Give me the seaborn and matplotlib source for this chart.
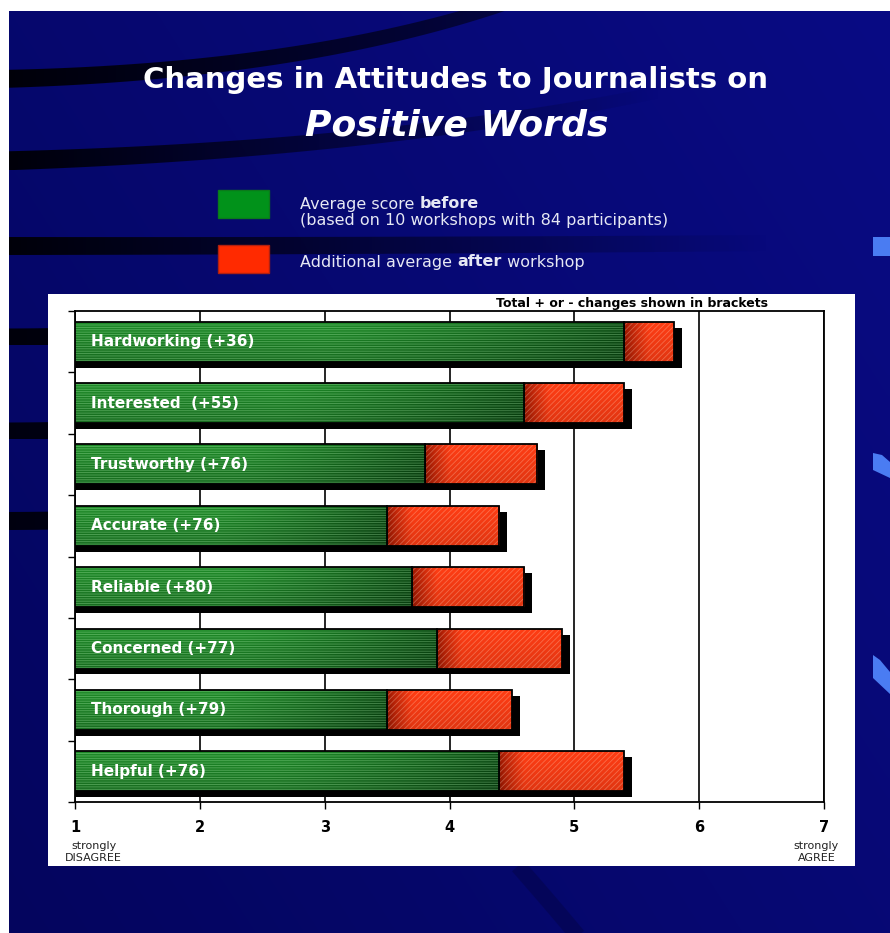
import numpy as np
import pandas as pd
import matplotlib
matplotlib.use("Agg")
import matplotlib.pyplot as plt
import matplotlib.patches as mpatches
import matplotlib.patheffects as pe
from matplotlib.colors import to_rgb
import seaborn as sns

# ---- chart data -------------------------------------------------------------
words = ["Hardworking", "Interested", "Trustworthy", "Accurate",
         "Reliable", "Concerned", "Thorough", "Helpful"]
bar_labels = ["Hardworking (+36)", "Interested  (+55)", "Trustworthy (+76)",
              "Accurate (+76)", "Reliable (+80)", "Concerned (+77)",
              "Thorough (+79)", "Helpful (+76)"]
score_before = [5.4, 4.6, 3.8, 3.5, 3.7, 3.9, 3.5, 4.4]
score_gain = [0.4, 0.8, 0.9, 0.9, 0.9, 1.0, 1.0, 1.0]
x_ticks = [1, 2, 3, 4, 5, 6, 7]

title_line1 = "Changes in Attitudes to Journalists on"
title_line2 = "Positive Words"
note_text = "Total + or - changes shown in brackets"

GREEN = "#1c8526"
RED = "#ff3a12"

df = pd.DataFrame({"word": words, "label": bar_labels,
                   "before": score_before, "gain": score_gain})
df["after"] = df["before"] + df["gain"]

sns.set_style("white")
plt.rcParams["font.family"] = ["DejaVu Sans"]
plt.rcParams["hatch.linewidth"] = 0.6

W, H = 890, 933
fig = plt.figure(figsize=(W / 100, H / 100), dpi=100, facecolor="white")

# ---- slide background (pixel coordinates) ----------------------------------
bg = fig.add_axes([9 / W, 0, (W - 9) / W, (H - 11) / H])
bg.set_xlim(9, W)
bg.set_ylim(H, 11)
bg.axis("off")

gx, gy = np.meshgrid(np.linspace(0, 1, 200), np.linspace(0, 1, 200))
t = 0.6 * gx + 0.4 * (1 - gy)
c0, c1 = np.array(to_rgb("#04055e")), np.array(to_rgb("#090b84"))
grad = c0[None, None, :] * (1 - t[..., None]) + c1[None, None, :] * t[..., None]
bg.imshow(grad, extent=(9, W, H, 11), origin="upper", aspect="auto",
          interpolation="bilinear", zorder=0)


def bezier(p0, p1, p2, n=80):
    s = np.linspace(0, 1, n)[:, None]
    p0, p1, p2 = map(np.asarray, (p0, p1, p2))
    return (1 - s) ** 2 * p0 + 2 * (1 - s) * s * p1 + s ** 2 * p2


def swoosh(p0, p1, p2, w0, w1, a0, a1):
    """Dark ribbon along a curve, fading from alpha a0 (left) to a1 (right)."""
    pts = bezier(p0, p1, p2)
    d = np.gradient(pts, axis=0)
    nrm = np.stack([-d[:, 1], d[:, 0]], axis=1)
    nrm /= np.linalg.norm(nrm, axis=1, keepdims=True)
    half = np.linspace(w0, w1, len(pts))[:, None] / 2
    outline = np.vstack([pts + nrm * half, (pts - nrm * half)[::-1]])
    poly = mpatches.Polygon(outline, closed=True, facecolor="none",
                            edgecolor="none")
    bg.add_patch(poly)
    xmin, xmax = outline[:, 0].min(), outline[:, 0].max()
    ymin, ymax = outline[:, 1].min(), outline[:, 1].max()
    img = np.zeros((2, 256, 4))
    img[..., 2] = 0.02
    img[..., 3] = np.linspace(a0, a1, 256)[None, :]
    im = bg.imshow(img, extent=(xmin, xmax, ymax, ymin), origin="upper",
                   aspect="auto", interpolation="bilinear", zorder=1)
    im.set_clip_path(poly)


swoosh((0, 79), (300, 72), (505, 4), 18, 13, 0.97, 0.5)
swoosh((0, 161), (380, 150), (660, 92), 19, 12, 0.97, 0.0)
swoosh((0, 246), (400, 246), (770, 243), 18, 16, 0.97, 0.0)
swoosh((0, 337), (40, 337), (80, 336), 17, 17, 0.95, 0.9)
swoosh((0, 431), (40, 431), (80, 430), 17, 17, 0.9, 0.85)
swoosh((0, 521), (40, 521), (80, 520), 18, 18, 0.9, 0.85)
swoosh((518, 866), (548, 900), (578, 936), 16, 16, 0.18, 0.18)

# light blue accents at the right edge
for poly in ([(873, 237), (890, 237), (890, 256), (873, 256)],
             [(873, 453), (882, 455), (890, 462), (890, 478), (873, 470)],
             [(873, 655), (880, 660), (890, 672), (890, 694), (873, 678)]):
    bg.add_patch(mpatches.Polygon(poly, closed=True, facecolor="#4a7cf2",
                                  edgecolor="none", zorder=2))

# white panel behind the chart
bg.add_patch(mpatches.Rectangle((48, 294), 807, 572, facecolor="white",
                                edgecolor="none", zorder=5))

# ---- titles -----------------------------------------------------------------
fig.text(456 / W, 1 - 80 / H, title_line1, ha="center", va="center",
         color="white", fontsize=21, fontweight="bold")
fig.text(457 / W, 1 - 125 / H, title_line2, ha="center", va="center",
         color="white", fontsize=26, fontweight="bold", fontstyle="italic")

# ---- legend -----------------------------------------------------------------
bg.add_patch(mpatches.Rectangle((218, 190), 51, 28, facecolor="#01921a",
                                edgecolor="#0a7a1a", lw=1, zorder=3))
bg.add_patch(mpatches.Rectangle((218, 245), 51, 28, facecolor="#ff2a00",
                                edgecolor="#b02010", lw=1, zorder=3))
leg_kw = dict(color="#e6e8f4", fontsize=11.5, zorder=4)
t1 = bg.text(300, 204, "Average score ", va="center", ha="left", **leg_kw)
bg.annotate("before", xy=(1, 0), xycoords=t1, va="bottom", ha="left",
            fontweight="bold", **leg_kw)
bg.text(300, 220, "(based on 10 workshops with 84 participants)",
        va="center", ha="left", **leg_kw)
t3 = bg.text(300, 262, "Additional average ", va="center", ha="left", **leg_kw)
t4 = bg.annotate("after", xy=(1, 0), xycoords=t3, va="bottom", ha="left",
                 fontweight="bold", **leg_kw)
bg.annotate(" workshop", xy=(1, 0), xycoords=t4, va="bottom", ha="left",
            **leg_kw)

# ---- bar chart --------------------------------------------------------------
ax = fig.add_axes([75 / W, 1 - 802 / H, 749 / W, 491 / H])
ax.set_facecolor("white")
ax.set_axisbelow(True)

sns.barplot(data=df, y="word", x="after", orient="h", color=RED,
            saturation=1, width=0.65, linewidth=0, ax=ax, zorder=2)
sns.barplot(data=df, y="word", x="before", orient="h", color=GREEN,
            saturation=1, width=0.65, linewidth=0, ax=ax, zorder=3)
red_bars = ax.containers[0]
green_bars = ax.containers[1]

shadow = [pe.SimplePatchShadow(offset=(5.8, -4.3), shadow_rgbFace="black",
                               alpha=1.0), pe.Normal()]
for p in red_bars:
    p.set_path_effects(shadow)


def green_texture(ncols=300, nrows=24):
    s = np.linspace(0, 1, ncols)
    base, dark = np.array(to_rgb("#1e8a28")), np.array(to_rgb("#0a4c12"))
    k = np.clip((s - 0.45) / 0.55, 0, 1) ** 1.3
    row = base[None, :] * (1 - k)[:, None] + dark[None, :] * k[:, None]
    v = np.linspace(0, 1, nrows)
    shade = 1.0 - 0.22 * v
    return np.clip(row[None, :, :] * shade[:, None, None], 0, 1)


def red_texture(width_data, ncols=300, nrows=24):
    d = np.linspace(0, width_data, ncols)
    dark, bright = np.array(to_rgb("#961500")), np.array(to_rgb("#ff3d14"))
    k = np.clip(d / 0.2, 0, 1) ** 0.8
    row = dark[None, :] * (1 - k)[:, None] + bright[None, :] * k[:, None]
    v = np.linspace(0, 1, nrows)
    shade = 1.0 - 0.12 * v
    return np.clip(row[None, :, :] * shade[:, None, None], 0, 1)


for pr, pg in zip(red_bars, green_bars):
    y0, h = pg.get_y(), pg.get_height()
    g_right = pg.get_x() + pg.get_width()
    r_right = pr.get_x() + pr.get_width()

    # red "after" segment
    im = ax.imshow(red_texture(r_right - g_right),
                   extent=(g_right, r_right, y0 + h, y0), origin="upper",
                   aspect="auto", interpolation="bilinear", zorder=2.1)
    im.set_clip_path(pr)
    ax.add_patch(mpatches.Rectangle((g_right, y0), r_right - g_right, h,
                                    fill=False, hatch="//////", lw=0,
                                    edgecolor=(1, 0.8, 0.7, 0.35),
                                    zorder=2.2))
    ax.add_patch(mpatches.Rectangle((g_right, y0), r_right - g_right, h,
                                    fill=False, edgecolor="black", lw=1.3,
                                    zorder=2.3))

    # green "before" segment
    im = ax.imshow(green_texture(), extent=(1, g_right, y0 + h, y0),
                   origin="upper", aspect="auto", interpolation="bilinear",
                   zorder=3.1)
    im.set_clip_path(pg)
    ax.add_patch(mpatches.Rectangle((1, y0), g_right - 1, h, fill=False,
                                    hatch="-------", lw=0,
                                    edgecolor=(0.75, 1, 0.75, 0.35),
                                    zorder=3.2))
    ax.add_patch(mpatches.Rectangle((1, y0), g_right - 1, h, fill=False,
                                    edgecolor="black", lw=1.3, zorder=3.3))

for i, lab in enumerate(df["label"]):
    ax.text(1.13, i, lab, ha="left", va="center", color="white",
            fontsize=11, fontweight="bold", zorder=6)

ax.set_xlim(1, 7)
ax.set_ylim(len(words) - 0.5, -0.5)
ax.set_xticks(x_ticks)
ax.set_xticklabels([str(v) for v in x_ticks], fontsize=10.5,
                   fontweight="bold", color="black")
ax.set_yticks([])
ax.set_yticks(np.arange(-0.5, len(words), 1.0), minor=True)
ax.set_xlabel("")
ax.set_ylabel("")
ax.grid(axis="x", color="black", linewidth=1.2)
ax.grid(axis="y", visible=False)
ax.tick_params(axis="x", direction="out", length=5, width=1, pad=8,
               bottom=True, color="black")
ax.tick_params(axis="y", which="minor", direction="out", length=5, width=1,
               left=True, color="black")
for sp in ax.spines.values():
    sp.set_visible(True)
    sp.set_color("black")
    sp.set_linewidth(1.3)

# scale end captions
cap_tf = ax.get_xaxis_transform()
cap_kw = dict(ha="center", va="center", fontsize=8, color="#222222",
              transform=cap_tf)
ax.text(1.15, -0.090, "strongly", **cap_kw)
ax.text(1.15, -0.114, "DISAGREE", **cap_kw)
ax.text(6.94, -0.090, "strongly", **cap_kw)
ax.text(6.94, -0.114, "AGREE", **cap_kw)

fig.text(768 / W, 1 - 303 / H, note_text, ha="right", va="center",
         fontsize=9, fontweight="bold", color="black")

fig.savefig("out.png", dpi=100, facecolor="white")
